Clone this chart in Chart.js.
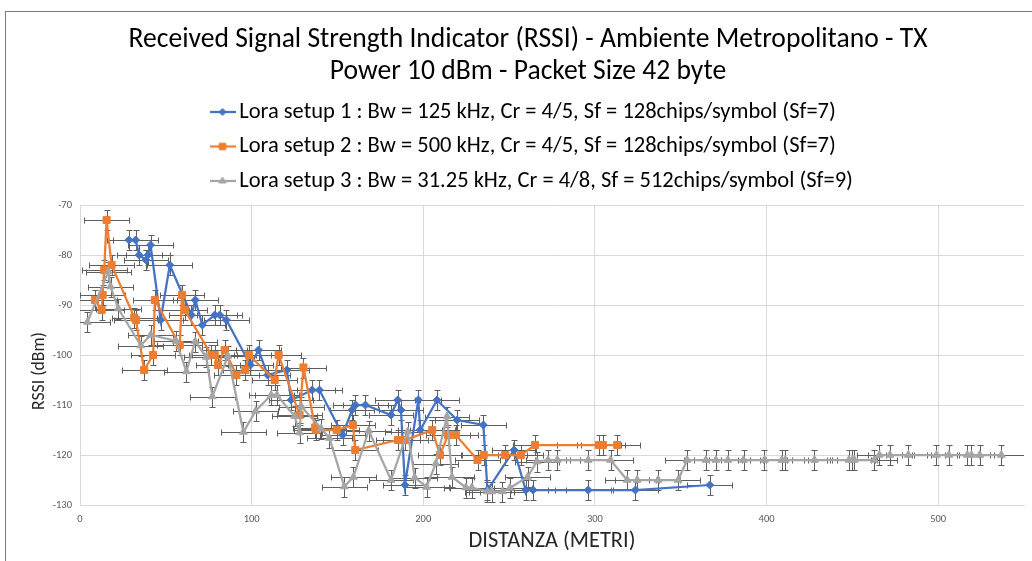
<!DOCTYPE html>
<html>
<head>
<meta charset="utf-8">
<title>RSSI - Ambiente Metropolitano</title>
<script src="https://cdn.jsdelivr.net/npm/chart.js@4.4.1/dist/chart.umd.min.js"></script>
<style>
  html, body { margin: 0; padding: 0; background: #fff; }
  #wrap { position: relative; width: 1032px; height: 561px; overflow: hidden; }
  #frame { position: absolute; left: 5px; top: 11px; width: 1100px; height: 600px; border: 1px solid #7a7a7a; box-sizing: border-box; }
  canvas { position: absolute; left: 0; top: 0; }
</style>
</head>
<body>
<div id="wrap">
  <div id="frame"></div>
  <canvas id="rssiChart" width="1032" height="561"></canvas>
</div>
<script>
// ---- data (distance in metres, RSSI in dBm) ----
const dist_setup1 = [28.5, 32.4, 34.5, 38.4, 39.7, 41.1, 47.0, 52.3, 64.9, 67.2, 71.3, 78.5, 81.4, 85.3, 99.3, 104.0, 109.3, 120.5, 123.0, 135.3, 139.5, 153.0, 158.5, 160.5, 166.3, 181.2, 185.1, 187.0, 189.3, 197.1, 198.2, 208.0, 219.7, 235.0, 237.4, 252.9, 259.7, 264.0, 296.1, 323.6, 366.9];
const rssi_setup1 = [-77, -77, -80, -81, -80, -78, -93, -82, -92, -89, -94, -92, -92, -93, -102, -99, -104, -103, -109, -107, -107, -116, -111, -110, -110, -112, -109, -111, -126, -109, -115, -109, -113, -114, -127, -119, -127, -127, -127, -127, -126];

const dist_setup2 = [8.7, 12.6, 13.2, 14.1, 15.5, 18.4, 31.6, 32.6, 37.4, 42.6, 43.6, 58.1, 59.5, 61.0, 76.6, 78.5, 80.4, 84.3, 91.1, 96.3, 98.4, 113.4, 115.7, 127.9, 130.2, 137.0, 137.6, 149.6, 159.0, 160.4, 185.3, 189.5, 205.2, 209.7, 214.4, 219.0, 231.6, 235.2, 247.7, 256.8, 265.1, 302.3, 304.7, 313.0];
const rssi_setup2 = [-89, -91, -88, -83, -73, -82, -92.5, -93, -103, -100, -89, -98, -88, -91, -100, -100, -102, -99, -104, -103, -100, -105, -100, -112, -102.5, -114.5, -115, -115, -114, -119, -117, -117, -115, -120, -116, -116, -121, -120, -120, -120, -118, -118, -118, -118];

const dist_setup3 = [4.3, 16.5, 17.8, 22.3, 35.4, 41.2, 55.9, 62.0, 67.1, 73.6, 77.1, 86.2, 95.2, 102.3, 111.4, 114.7, 125.0, 127.9, 128.9, 140.5, 145.3, 154.0, 159.3, 168.2, 181.2, 190.9, 195.0, 201.9, 207.3, 213.8, 216.7, 224.8, 228.3, 237.4, 239.9, 246.1, 250.5, 260.8, 266.2, 272.7, 278.1, 296.1, 309.1, 318.8, 324.6, 336.8, 348.5, 353.7, 364.7, 370.5, 377.5, 386.6, 398.8, 408.9, 410.9, 427.9, 448.0, 450.0, 451.2, 462.8, 465.7, 471.9, 482.6, 499.0, 506.2, 517.0, 519.4, 524.2, 536.8];
const rssi_setup3 = [-93.4, -83.3, -86.3, -90.7, -98.1, -96, -97.2, -103.3, -97.3, -100.4, -108.3, -100.2, -115.4, -111.2, -108, -108, -112.2, -115.5, -110.3, -114.7, -116.6, -126.3, -124.4, -115.1, -125, -115.3, -124.5, -126.4, -121.7, -112.3, -124.4, -126.5, -126.5, -127.3, -127.3, -127.3, -126.6, -124.4, -121.3, -121, -121, -121, -121, -125, -125, -125, -125, -121, -121, -121, -121, -121, -121, -121, -121, -121, -121, -121, -121, -121, -120, -120, -120, -120, -120, -120, -120, -120, -120];

// error bars (metres / dBm)
const X_ERR = 13;
const Y_ERR = 2;

const TITLE = ['Received Signal Strength Indicator (RSSI) - Ambiente Metropolitano - TX', 'Power 10 dBm - Packet Size 42 byte'];
const LABELS = [
  'Lora setup 1 : Bw = 125 kHz, Cr = 4/5, Sf = 128chips/symbol (Sf=7)',
  'Lora setup 2 : Bw = 500 kHz, Cr = 4/5, Sf = 128chips/symbol (Sf=7)',
  'Lora setup 3 : Bw = 31.25 kHz, Cr = 4/8, Sf = 512chips/symbol (Sf=9)'
];
const COLORS = ['#4472C4', '#ED7D31', '#A5A5A5'];
const MARKERS = ['rectRot', 'rect', 'triangle'];
const RADIUS = [4, 5, 4.5];
const X_TITLE = 'DISTANZA (METRI)';
// trailing spaces push the visible text a bit lower, as in the picture
const Y_TITLE = 'RSSI (dBm)        ';

const FONT = "Carlito, Lato, 'Liberation Sans', sans-serif";

// pick font sizes so the texts take the same width as in the picture
const mctx = document.createElement('canvas').getContext('2d');
function fitSize (text, width) {
  mctx.font = '100px ' + FONT;
  return Math.round(1000 * width / mctx.measureText(text).width) / 10;
}
const titleSize = fitSize(TITLE[0], 800);
const legendSize = fitSize(LABELS[0], 597);
const tickSize = fitSize('500', 16);
const xTitleSize = fitSize(X_TITLE, 167);
const yTitleSize = fitSize('RSSI (dBm)', 78);

// legend rows 34.5px apart, first text centre at y=112, plot top at y=205
const legendPad = 34.5 - legendSize;
const legendTop = 112 - legendPad - legendSize / 2;
const titlePadBottom = legendTop - 88;
const topGap = 205 - (legendTop + 3 * 34.5 + 10);
const LEGEND_BOX = 11;
const LEGEND_X = 217;

function legendIcon (i) {
  const c = document.createElement('canvas');
  c.width = 26;
  c.height = 12;
  const g = c.getContext('2d');
  g.strokeStyle = COLORS[i];
  g.lineWidth = 2.25;
  g.beginPath();
  g.moveTo(0, 6);
  g.lineTo(26, 6);
  g.stroke();
  g.fillStyle = COLORS[i];
  g.lineWidth = 1;
  Chart.helpers.drawPoint(g, {pointStyle: MARKERS[i], radius: RADIUS[i] - 0.5, rotation: 0, borderWidth: 1}, 13, 6);
  return c;
}

const errorBars = {
  id: 'errorBars',
  beforeDatasetsDraw (chart) {
    const {ctx, chartArea, scales} = chart;
    const x = scales.x, y = scales.y;
    ctx.save();
    ctx.beginPath();
    ctx.rect(chartArea.left, chartArea.top, chartArea.width, chartArea.height);
    ctx.clip();
    ctx.strokeStyle = '#5f5f5f';
    ctx.lineWidth = 1;
    chart.data.datasets.forEach((ds) => {
      ds.data.forEach((p) => {
        const px = Math.round(x.getPixelForValue(p.x)) + 0.5;
        const py = Math.round(y.getPixelForValue(p.y)) + 0.5;
        const x0 = Math.round(x.getPixelForValue(p.x - X_ERR)) + 0.5;
        const x1 = Math.round(x.getPixelForValue(p.x + X_ERR)) + 0.5;
        const y0 = Math.round(y.getPixelForValue(p.y + Y_ERR)) + 0.5;
        const y1 = Math.round(y.getPixelForValue(p.y - Y_ERR)) + 0.5;
        ctx.beginPath();
        ctx.moveTo(x0, py); ctx.lineTo(x1, py);
        ctx.moveTo(x0, py - 3); ctx.lineTo(x0, py + 3);
        ctx.moveTo(x1, py - 3); ctx.lineTo(x1, py + 3);
        ctx.moveTo(px, y0); ctx.lineTo(px, y1);
        ctx.moveTo(px - 3, y0); ctx.lineTo(px + 3, y0);
        ctx.moveTo(px - 3, y1); ctx.lineTo(px + 3, y1);
        ctx.stroke();
      });
    });
    ctx.restore();
  }
};

// Excel keeps the legend entries left aligned as one block starting at LEGEND_X
const legendBlock = {
  id: 'legendBlock',
  beforeDraw (chart) {
    const lg = chart.legend;
    if (!lg || !lg.lineWidths) return;
    const pad = lg.options.labels.padding;
    const w = lg.left + pad + lg.right - 2 * LEGEND_X;
    lg.lineWidths = lg.lineWidths.map(() => w);
  }
};

function makeSet (i, dist, rssi) {
  return {
    label: LABELS[i],
    data: dist.map((d, k) => ({x: d, y: rssi[k]})),
    showLine: true,
    borderColor: COLORS[i],
    backgroundColor: COLORS[i],
    borderWidth: 2.25,
    pointStyle: MARKERS[i],
    pointRadius: RADIUS[i],
    pointBorderWidth: 1,
    order: 3 - i
  };
}

const ctx = document.getElementById('rssiChart').getContext('2d');
new Chart(ctx, {
  type: 'scatter',
  data: {
    datasets: [
      makeSet(0, dist_setup1, rssi_setup1),
      makeSet(1, dist_setup2, rssi_setup2),
      makeSet(2, dist_setup3, rssi_setup3)
    ]
  },
  options: {
    responsive: false,
    animation: false,
    devicePixelRatio: 1,
    layout: { padding: { left: 31, right: 7, top: 0, bottom: 0 } },
    plugins: {
      title: {
        display: true,
        text: TITLE,
        color: '#000',
        font: { family: FONT, size: titleSize, weight: 'normal', lineHeight: '32px' },
        padding: { top: 24, bottom: titlePadBottom }
      },
      legend: {
        display: true,
        position: 'top',
        labels: {
          usePointStyle: true,
          pointStyleWidth: LEGEND_BOX,
          padding: legendPad,
          color: '#000',
          font: { family: FONT, size: legendSize },
          sort: (a, b) => a.datasetIndex - b.datasetIndex,
          generateLabels: (chart) => chart.data.datasets.map((ds, i) => ({
            text: ds.label,
            datasetIndex: i,
            pointStyle: legendIcon(i),
            fillStyle: COLORS[i],
            strokeStyle: COLORS[i],
            lineWidth: 0,
            hidden: false
          }))
        }
      },
      tooltip: { enabled: false }
    },
    scales: {
      x: {
        type: 'linear',
        position: 'bottom',
        min: 0,
        max: 550,
        ticks: {
          stepSize: 100,
          padding: 8,
          color: '#595959',
          font: { family: FONT, size: tickSize },
          callback: (v) => (v % 100 === 0 ? v : '')
        },
        grid: {
          drawTicks: false,
          color: (c) => (c.tick && c.tick.value === 550 ? 'rgba(0,0,0,0)' : '#d9d9d9')
        },
        border: { color: '#d9d9d9' },
        title: {
          display: true,
          text: X_TITLE,
          color: '#262626',
          font: { family: FONT, size: xTitleSize, lineHeight: 1 },
          padding: { top: 0, bottom: 20 - xTitleSize / 2 }
        },
        afterFit: (s) => { s.height = 56; }
      },
      x2: {
        type: 'linear',
        position: 'top',
        display: true,
        ticks: { display: false },
        grid: { display: false, drawTicks: false },
        border: { display: false },
        afterFit: (s) => { s.height = topGap; }
      },
      y: {
        min: -130,
        max: -70,
        ticks: {
          stepSize: 10,
          padding: 8,
          color: '#595959',
          font: { family: FONT, size: tickSize }
        },
        grid: { drawTicks: false, color: '#d9d9d9' },
        border: { color: '#d9d9d9' },
        title: {
          display: true,
          text: Y_TITLE,
          color: '#262626',
          font: { family: FONT, size: yTitleSize, lineHeight: 1 },
          padding: { top: 9 - yTitleSize / 2, bottom: 0 }
        },
        afterFit: (s) => { s.width = 49; }
      }
    }
  },
  plugins: [errorBars, legendBlock]
});
</script>
</body>
</html>
